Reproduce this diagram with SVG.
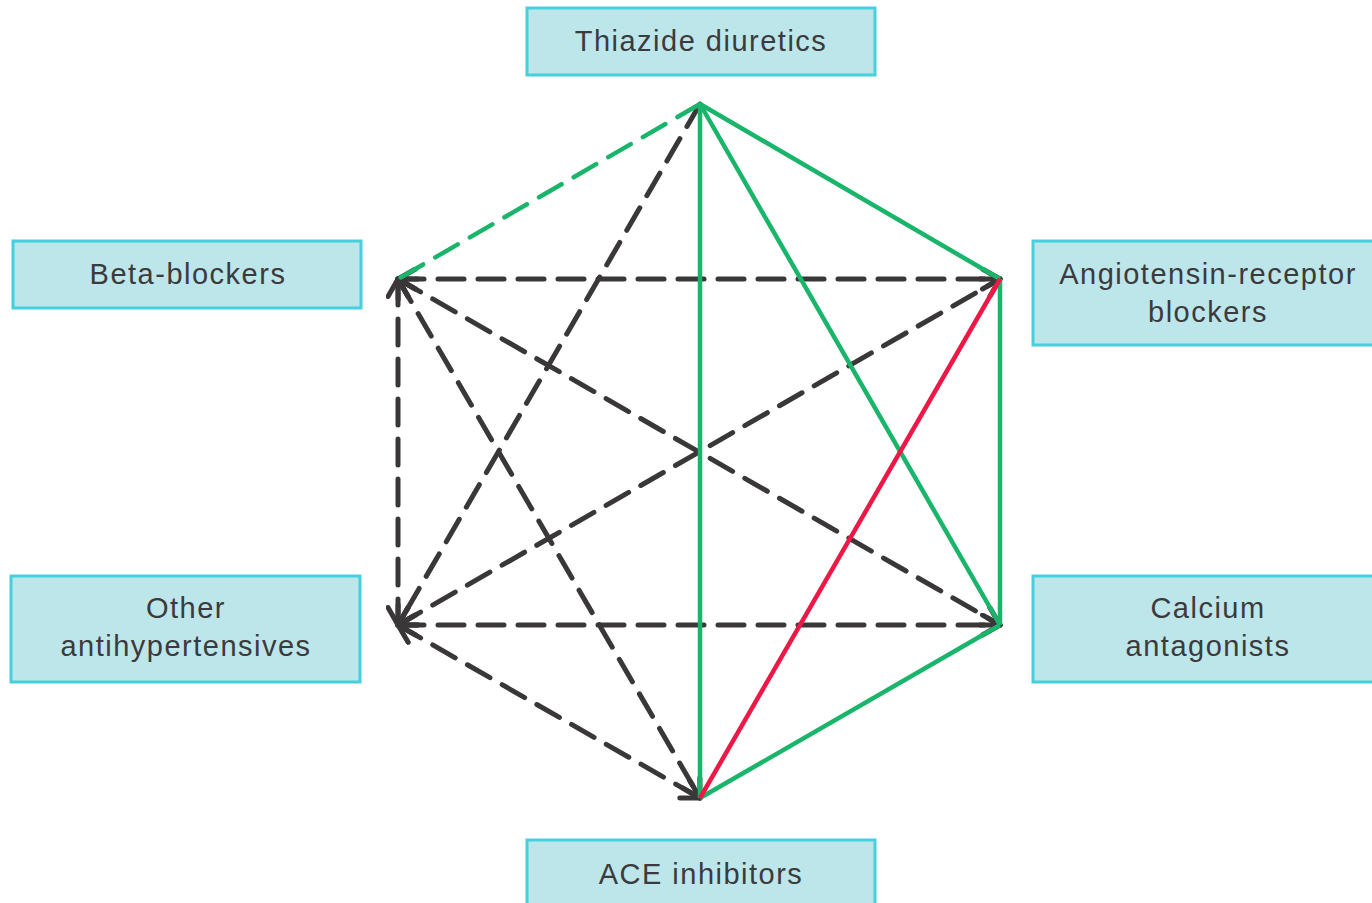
<svg xmlns="http://www.w3.org/2000/svg" width="1372" height="903" viewBox="0 0 1372 903">
<defs>
<style>
.box{fill:#bde6ea;stroke:#44d0dc;stroke-width:3}
.t{font-family:"Liberation Sans",Arial,sans-serif;font-size:29px;fill:#3b3a3c;text-anchor:middle;letter-spacing:1.5px}
.dk{stroke:#3a3739;stroke-width:5;fill:none;stroke-dasharray:26 14;stroke-linecap:round}
.g{stroke:#19b56a;stroke-width:4.5;fill:none}
.gd{stroke:#19b56a;stroke-width:4.5;fill:none;stroke-dasharray:26 14;stroke-linecap:round}
.r{stroke:#ee1846;stroke-width:4.5;fill:none}
</style>
<marker id="ah" viewBox="0 0 20 20" refX="17" refY="10" markerWidth="5" markerHeight="5" orient="auto-start-reverse" markerUnits="strokeWidth">
<path d="M3,2 L17,10 L3,18" fill="none" stroke="#3a3739" stroke-width="4" stroke-linecap="round" stroke-linejoin="round"/>
</marker>
</defs>
<rect width="1372" height="903" fill="#ffffff"/>
<g id="connectors">
<line class="dk" x1="700" y1="104" x2="398" y2="625" marker-end="url(#ah)"/>
<line class="dk" x1="398" y1="279" x2="1000" y2="279" marker-start="url(#ah)" marker-end="url(#ah)"/>
<line class="dk" x1="398" y1="279" x2="1000" y2="625" marker-start="url(#ah)" marker-end="url(#ah)"/>
<line class="dk" x1="398" y1="279" x2="700" y2="798" marker-start="url(#ah)" marker-end="url(#ah)"/>
<line class="dk" x1="398" y1="279" x2="398" y2="625" marker-start="url(#ah)" marker-end="url(#ah)"/>
<line class="dk" x1="398" y1="625" x2="1000" y2="279" marker-start="url(#ah)" marker-end="url(#ah)"/>
<line class="dk" x1="398" y1="625" x2="1000" y2="625" marker-start="url(#ah)" marker-end="url(#ah)"/>
<line class="dk" x1="398" y1="625" x2="700" y2="798" marker-start="url(#ah)" marker-end="url(#ah)"/>
<line class="gd" x1="700" y1="104" x2="398" y2="279"/>
<line class="g" x1="700" y1="104" x2="700" y2="798"/>
<line class="g" x1="700" y1="104" x2="1000" y2="279"/>
<line class="g" x1="700" y1="104" x2="1000" y2="625"/>
<line class="g" x1="1000" y1="279" x2="1000" y2="625"/>
<line class="g" x1="1000" y1="625" x2="700" y2="798"/>
<line class="r" x1="1000" y1="279" x2="700" y2="798"/>
</g>
<g id="thiazide">
<rect class="box" x="527" y="8" width="348" height="67"/>
<text class="t" x="701" y="51">Thiazide diuretics</text>
</g>
<g id="beta">
<rect class="box" x="13" y="241" width="348" height="67"/>
<text class="t" x="188" y="284">Beta-blockers</text>
</g>
<g id="arb">
<rect class="box" x="1033" y="241" width="345" height="104"/>
<text class="t" x="1208" y="284">Angiotensin-receptor</text>
<text class="t" x="1208" y="322">blockers</text>
</g>
<g id="other">
<rect class="box" x="11" y="576" width="349" height="106"/>
<text class="t" x="186" y="618">Other</text>
<text class="t" x="186" y="656">antihypertensives</text>
</g>
<g id="calcium">
<rect class="box" x="1033" y="576" width="345" height="106"/>
<text class="t" x="1208" y="618">Calcium</text>
<text class="t" x="1208" y="656">antagonists</text>
</g>
<g id="ace">
<rect class="box" x="527" y="840" width="348" height="70"/>
<text class="t" x="701" y="884">ACE inhibitors</text>
</g>
</svg>
